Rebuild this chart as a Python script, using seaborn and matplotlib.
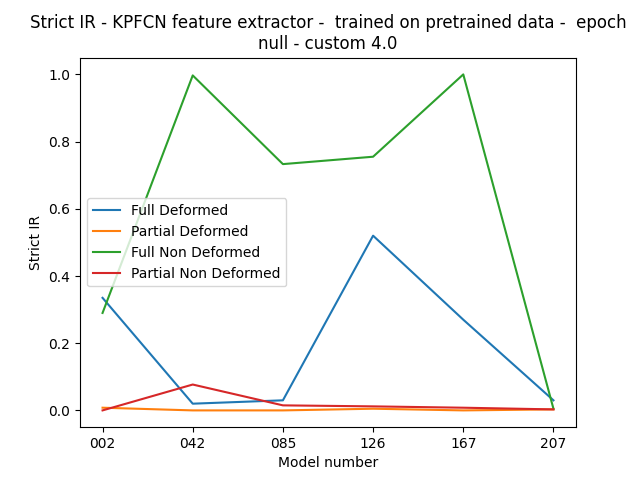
import pandas as pd
import seaborn as sns
import matplotlib.pyplot as plt

models = ["002", "042", "085", "126", "167", "207"]
full_deformed = [0.335, 0.02, 0.03, 0.52, 0.27, 0.03]
partial_deformed = [0.008, 0.0, 0.0, 0.005, 0.0, 0.003]
full_non_deformed = [0.29, 0.997, 0.733, 0.755, 1.0, 0.005]
partial_non_deformed = [0.0, 0.077, 0.015, 0.012, 0.008, 0.003]

series = {
    "Full Deformed": full_deformed,
    "Partial Deformed": partial_deformed,
    "Full Non Deformed": full_non_deformed,
    "Partial Non Deformed": partial_non_deformed,
}
rows = []
for name, vals in series.items():
    for m, v in zip(models, vals):
        rows.append((m, v, name))
df = pd.DataFrame(rows, columns=["model", "ir", "series"])

fig, ax = plt.subplots(figsize=(6.4, 4.8), dpi=100)
sns.lineplot(data=df, x="model", y="ir", hue="series", ax=ax,
             palette=["#1f77b4", "#ff7f0e", "#2ca02c", "#d62728"])
ax.set_xlabel("Model number")
ax.set_ylabel("Strict IR")
ax.set_title("Strict IR - KPFCN feature extractor -  trained on pretrained data -  epoch\nnull - custom 4.0")
ax.legend(loc="center left", title=None)
fig.savefig("out.png")
